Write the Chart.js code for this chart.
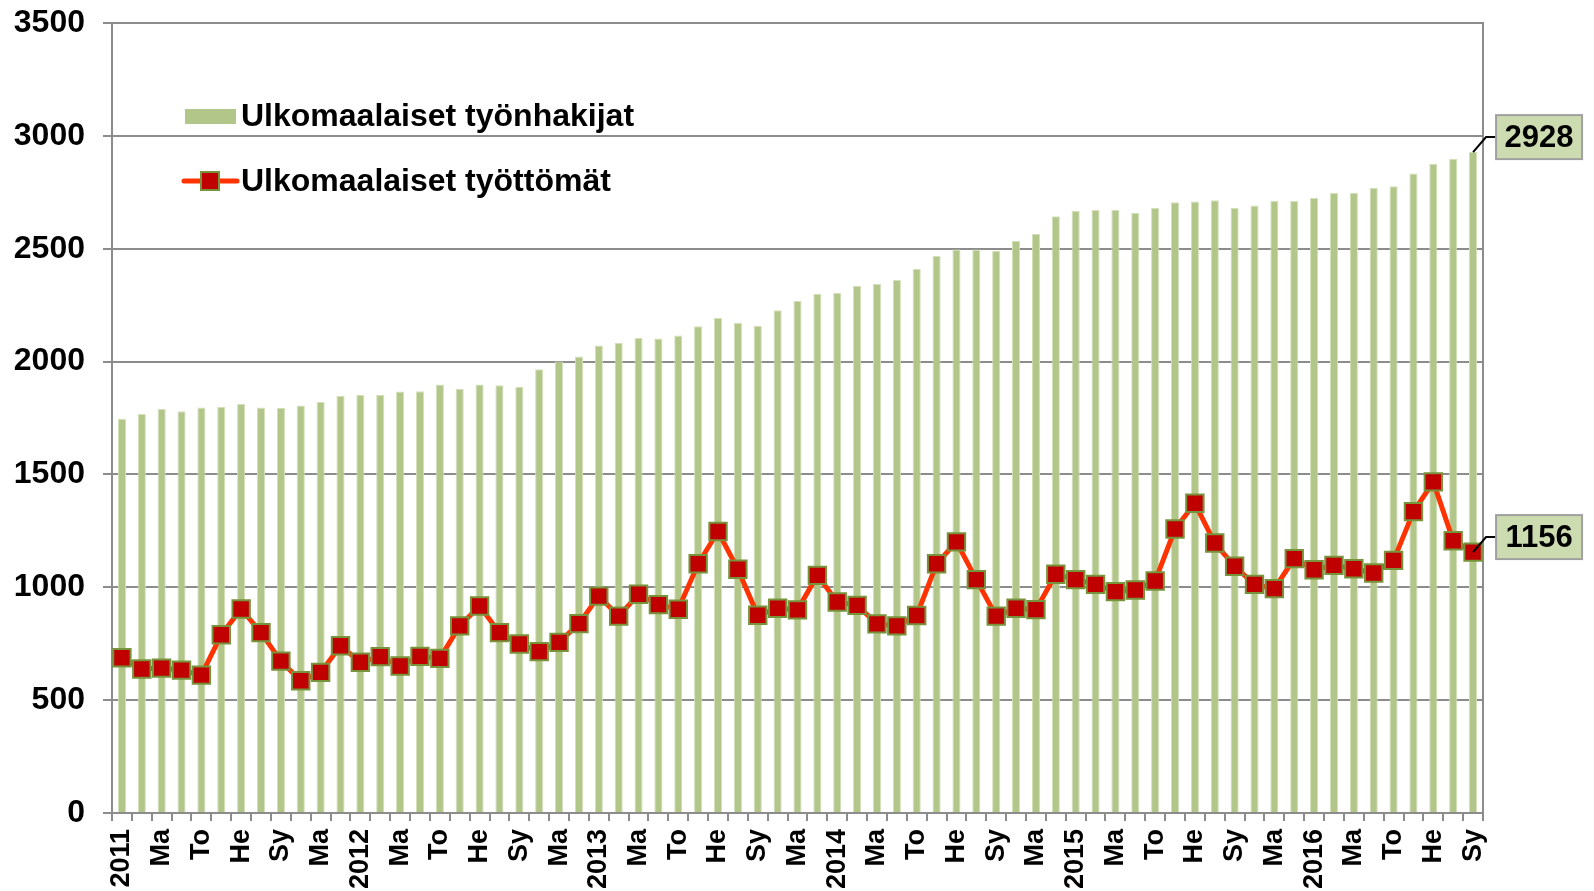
<!DOCTYPE html>
<html>
<head>
<meta charset="utf-8">
<script src="https://cdn.jsdelivr.net/npm/chart.js@4.4.0/dist/chart.umd.min.js"></script>
<style>
  html, body { margin: 0; padding: 0; background: #ffffff; }
  #wrap { width: 1594px; height: 891px; position: relative; }
</style>
</head>
<body>
<div id="wrap"><canvas id="c"></canvas></div>
<script>
// ---- DATA ----
const tickLabels = [
  '2011','','Ma','','To','','He','','Sy','','Ma','',
  '2012','','Ma','','To','','He','','Sy','','Ma','',
  '2013','','Ma','','To','','He','','Sy','','Ma','',
  '2014','','Ma','','To','','He','','Sy','','Ma','',
  '2015','','Ma','','To','','He','','Sy','','Ma','',
  '2016','','Ma','','To','','He','','Sy'
];
const tyonhakijat = [
  1747, 1768, 1791, 1780, 1797, 1799, 1812, 1796, 1794, 1805, 1821, 1849,
  1853, 1853, 1867, 1868, 1898, 1880, 1898, 1895, 1889, 1966, 2000, 2023,
  2071, 2082, 2105, 2102, 2115, 2156, 2193, 2172, 2158, 2227, 2268, 2300,
  2304, 2335, 2344, 2363, 2410, 2468, 2497, 2497, 2491, 2534, 2565, 2644,
  2667, 2672, 2672, 2658, 2682, 2706, 2709, 2715, 2681, 2692, 2713, 2711,
  2725, 2747, 2748, 2769, 2777, 2833, 2876, 2899, 2928
];
const tyottomat = [
  688, 638, 642, 633, 611, 790, 904, 799, 673, 586, 623, 741,
  668, 693, 651, 694, 685, 829, 917, 799, 749, 715, 756, 839,
  961, 872, 969, 923, 903, 1104, 1247, 1080, 876, 907, 900, 1053,
  935, 920, 838, 829, 875, 1104, 1201, 1034, 872, 907, 901, 1058,
  1034, 1013, 981, 988, 1028, 1258, 1372, 1196, 1093, 1013, 994, 1127,
  1078, 1097, 1082, 1063, 1119, 1335, 1467, 1206, 1156
];
const seriesNames = ['Ulkomaalaiset työnhakijat', 'Ulkomaalaiset työttömät'];
const yTicks = { min: 0, max: 3500, step: 500 };

// ---- STYLE ----
const FONT = "'Liberation Sans', Arial, sans-serif";
const BAR_COLOR = '#B2C68A';
const LINE_COLOR = '#FF3300';
const MARK_FILL = '#C00000';
const MARK_EDGE = '#77933C';
const GRID = '#8C8C8C';
const LABEL_FILL = '#CCDBB0';

const framePlugin = {
  id: 'frame',
  beforeDatasetsDraw(chart) {
    const { ctx, chartArea: a } = chart;
    ctx.save();
    ctx.strokeStyle = GRID;
    ctx.lineWidth = 2;
    ctx.beginPath();
    ctx.moveTo(a.left, a.top);
    ctx.lineTo(a.right, a.top);
    ctx.lineTo(a.right, a.bottom);
    ctx.stroke();
    ctx.restore();
  }
};

const legendPlugin = {
  id: 'customLegend',
  afterDraw(chart) {
    const ctx = chart.ctx;
    ctx.save();
    ctx.font = 'bold 32px ' + FONT;
    ctx.fillStyle = '#000';
    ctx.textBaseline = 'middle';
    ctx.textAlign = 'left';
    // bar entry
    ctx.fillStyle = BAR_COLOR;
    ctx.fillRect(185, 109, 51, 15);
    ctx.fillStyle = '#000';
    ctx.fillText(seriesNames[0], 241, 117);
    // line entry
    const ly = 181;
    ctx.strokeStyle = LINE_COLOR;
    ctx.lineWidth = 5;
    ctx.lineCap = 'round';
    ctx.beginPath();
    ctx.moveTo(184, ly);
    ctx.lineTo(237, ly);
    ctx.stroke();
    ctx.fillStyle = MARK_FILL;
    ctx.fillRect(201, ly - 9, 18, 18);
    ctx.strokeStyle = MARK_EDGE;
    ctx.lineWidth = 2;
    ctx.strokeRect(201, ly - 9, 18, 18);
    ctx.fillStyle = '#000';
    ctx.fillText(seriesNames[1], 241, ly + 1);
    ctx.restore();
  }
};

const endLabelPlugin = {
  id: 'endLabels',
  afterDatasetsDraw(chart) {
    const ctx = chart.ctx;
    chart.data.datasets.forEach((ds, i) => {
      const meta = chart.getDatasetMeta(i);
      const last = meta.data.length - 1;
      const el = meta.data[last];
      const x = el.x, y = el.y;
      const val = ds.data[last];
      const ly = y - 15;
      ctx.save();
      ctx.strokeStyle = '#000';
      ctx.lineWidth = 2;
      ctx.beginPath();
      ctx.moveTo(x, y);
      ctx.lineTo(x + 13, ly);
      ctx.lineTo(x + 23, ly);
      ctx.stroke();
      const bx = x + 23, bw = 86, bh = 44;
      ctx.fillStyle = LABEL_FILL;
      ctx.fillRect(bx, ly - bh / 2, bw, bh);
      ctx.strokeStyle = '#A0A0A0';
      ctx.lineWidth = 2;
      ctx.strokeRect(bx, ly - bh / 2, bw, bh);
      ctx.fillStyle = '#000';
      ctx.font = 'bold 31px ' + FONT;
      ctx.textAlign = 'center';
      ctx.textBaseline = 'middle';
      ctx.fillText(String(val), bx + bw / 2, ly + 1);
      ctx.restore();
    });
  }
};

new Chart(document.getElementById('c'), {
  type: 'bar',
  data: {
    labels: tickLabels,
    datasets: [
      {
        type: 'bar',
        label: seriesNames[0],
        data: tyonhakijat,
        backgroundColor: BAR_COLOR,
        borderColor: '#D3E0BA',
        borderWidth: 1,
        barPercentage: 0.41,
        categoryPercentage: 1.0,
        order: 2
      },
      {
        type: 'line',
        label: seriesNames[1],
        data: tyottomat,
        borderColor: LINE_COLOR,
        borderWidth: 5,
        tension: 0,
        pointStyle: 'rect',
        pointRadius: 12.3,
        pointBackgroundColor: MARK_FILL,
        pointBorderColor: MARK_EDGE,
        pointBorderWidth: 2,
        order: 1
      }
    ]
  },
  options: {
    responsive: true,
    maintainAspectRatio: false,
    devicePixelRatio: 1,
    animation: false,
    layout: { padding: { top: 23, right: 111, left: 0, bottom: 0 } },
    plugins: {
      legend: { display: false },
      tooltip: { enabled: false }
    },
    scales: {
      x: {
        offset: true,
        grid: {
          offset: true,
          drawOnChartArea: false,
          drawTicks: true,
          tickLength: 8,
          color: GRID,
          lineWidth: 2
        },
        border: { color: GRID, width: 2 },
        ticks: {
          autoSkip: false,
          maxRotation: 90,
          minRotation: 90,
          padding: 8,
          color: '#000',
          font: { family: FONT, size: 27, weight: 'bold' }
        },
        afterFit(scale) {
          scale.height = 78;
          scale.paddingLeft = 0;
          scale.paddingRight = 0;
        }
      },
      y: {
        min: yTicks.min,
        max: yTicks.max,
        ticks: {
          stepSize: yTicks.step,
          padding: 18,
          color: '#000',
          font: { family: FONT, size: 32, weight: 'bold' },
          callback: (v) => String(v)
        },
        grid: {
          color: GRID,
          lineWidth: 2,
          tickLength: 9
        },
        border: { color: GRID, width: 2 },
        afterFit(scale) {
          scale.width = 112;
          scale.paddingTop = 0;
          scale.paddingBottom = 0;
        }
      }
    }
  },
  plugins: [framePlugin, endLabelPlugin, legendPlugin]
});
</script>
</body>
</html>
